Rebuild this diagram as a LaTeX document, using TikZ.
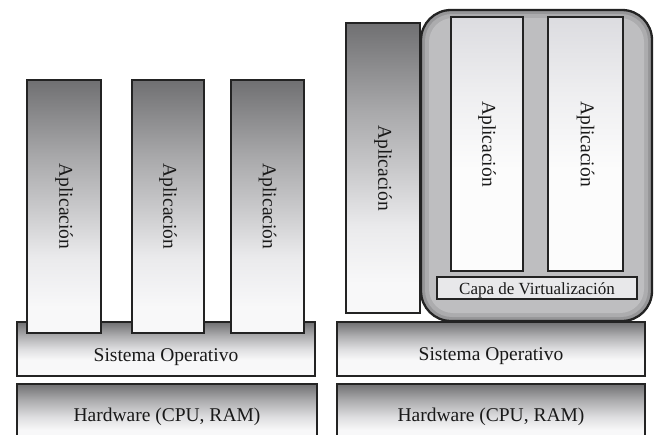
\documentclass[tikz,border=0pt]{standalone}
\usepackage{fontspec}
\setmainfont{Liberation Serif}
\definecolor{edge}{RGB}{35,35,35}
\definecolor{txt}{RGB}{25,25,25}
\definecolor{contA}{RGB}{150,150,152}
\definecolor{contB}{RGB}{172,172,174}
\definecolor{contC}{RGB}{190,190,192}
\definecolor{capa}{RGB}{232,232,234}
\definecolor{aA}{RGB}{112,112,114}
\definecolor{aB}{RGB}{168,168,170}
\definecolor{aC}{RGB}{200,200,202}
\definecolor{aD}{RGB}{234,234,236}
\definecolor{aE}{RGB}{248,248,249}
\definecolor{iA}{RGB}{220,220,224}
\definecolor{iB}{RGB}{238,238,240}
\definecolor{iC}{RGB}{252,252,252}
\definecolor{oA}{RGB}{112,112,114}
\definecolor{oB}{RGB}{175,175,177}
\definecolor{oC}{RGB}{222,222,224}
\definecolor{oD}{RGB}{248,248,249}
\pgfdeclareverticalshading{appshade}{100bp}{color(0bp)=(aE); color(25bp)=(aE); color(30bp)=(aE); color(40bp)=(aD); color(50bp)=(aC); color(60bp)=(aB); color(75bp)=(aA); color(100bp)=(aA)}
\pgfdeclareverticalshading{innershade}{100bp}{color(0bp)=(iC); color(25bp)=(iC); color(45bp)=(iC); color(60bp)=(iB); color(75bp)=(iA); color(100bp)=(iA)}
\pgfdeclareverticalshading{osshade}{100bp}{color(0bp)=(oD); color(25bp)=(oD); color(40bp)=(oD); color(50bp)=(oC); color(62bp)=(oB); color(75bp)=(oA); color(100bp)=(oA)}
\tikzset{
  box/.style={draw=edge, line width=1.3pt, inner sep=0pt, outer sep=0pt, rectangle},
  appbox/.style={box, shading=appshade},
  innerbox/.style={box, shading=innershade},
  osbox/.style={box, shading=osshade},
  apptext/.style={rotate=-90, inner sep=0pt, text=txt, font=\fontsize{19.5}{20}\selectfont},
  labtext/.style={anchor=base, inner sep=0pt, text=txt, font=\fontsize{19.5}{20}\selectfont},
}
\begin{document}
\begin{tikzpicture}[x=1pt,y=-1pt]
\useasboundingbox (0,0) rectangle (655,434);
\clip (0,0) rectangle (655,434);
\fill[white] (0,0) rectangle (655,434);
% ---------- left stack ----------
\node[osbox, minimum width=300pt, minimum height=66pt] (hwL) at (167,417) {};
\node[labtext] (hwLt) at (167,421) {Hardware (CPU, RAM)};
\node[osbox, minimum width=298pt, minimum height=54pt] (osL) at (166,349) {};
\node[labtext] (osLt) at (166,361) {Sistema Operativo};
\node[appbox, minimum width=74pt, minimum height=253pt] (a1) at (64,206.5) {};
\node[appbox, minimum width=72pt, minimum height=253pt] (a2) at (168,206.5) {};
\node[appbox, minimum width=73pt, minimum height=253pt] (a3) at (267.5,206.5) {};
\node[apptext] (a1t) at (a1.center) {Aplicación};
\node[apptext] (a2t) at (a2.center) {Aplicación};
\node[apptext] (a3t) at (a3.center) {Aplicación};
% ---------- right stack ----------
\node[osbox, minimum width=308pt, minimum height=66pt] (hwR) at (491,417) {};
\node[labtext] (hwRt) at (491,421) {Hardware (CPU, RAM)};
\node[osbox, minimum width=308pt, minimum height=54pt] (osR) at (491,349) {};
\node[labtext] (osRt) at (491,360) {Sistema Operativo};
\node[appbox, minimum width=74pt, minimum height=290pt] (r1) at (383,168) {};
\node[apptext] (r1t) at (r1.center) {Aplicación};
% container
\node[draw=edge, line width=2.3pt, fill=contA, rounded corners=30pt, inner sep=0pt, minimum width=231pt, minimum height=311pt] (cont) at (536.5,165.5) {};
\node[fill=contB, rounded corners=27pt, inner sep=0pt, minimum width=223pt, minimum height=303pt] (contb) at (536.5,165.5) {};
\node[fill=contC, rounded corners=24pt, inner sep=0pt, minimum width=215pt, minimum height=295pt] (contc) at (536.5,165.5) {};
\node[innerbox, minimum width=72pt, minimum height=254pt] (i1) at (487,144) {};
\node[innerbox, minimum width=75pt, minimum height=254pt] (i2) at (585.5,144) {};
\node[apptext] (i1t) at (i1.center) {Aplicación};
\node[apptext] (i2t) at (i2.center) {Aplicación};
\node[box, fill=capa, minimum width=200pt, minimum height=22pt] (capa) at (537,288) {};
\node[anchor=base, inner sep=0pt, text=txt, font=\fontsize{17}{18}\selectfont] (capat) at (537,294.5) {Capa de Virtualización};
\end{tikzpicture}
\end{document}
